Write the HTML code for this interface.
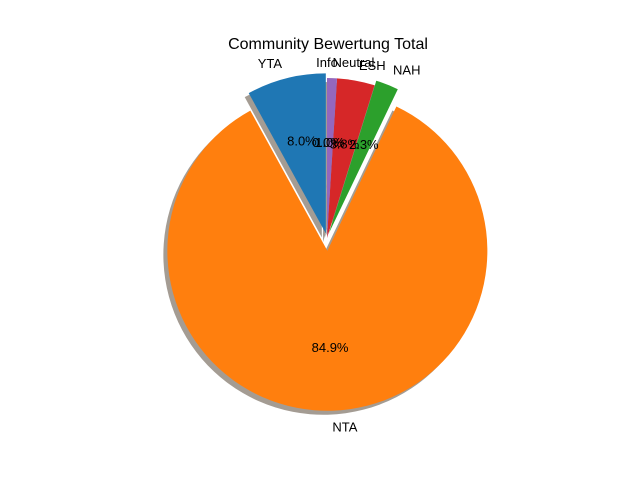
<!DOCTYPE html>
<html><head><meta charset="utf-8"><style>
body{margin:0;background:#fff}
svg text{font-family:"Liberation Sans","DejaVu Sans",sans-serif;font-size:13px;fill:#000}
</style></head><body>
<svg id="c" width="640" height="480">
<text x="328" y="49" text-anchor="middle" style="font-size:16px">Community Bewertung Total</text>
</svg>
<script>
const labels=["YTA","NTA","NAH","ESH","Neutral","Info"];
const values=[8.0,84.9,2.3,3.8,1.0,0.0];
const explode=[0.03,0.08,0.03,0,0,0];
const colors=["#1f77b4","#ff7f0e","#2ca02c","#d62728","#9467bd","#8c564b"];
const svg=document.getElementById('c');
const NS="http://www.w3.org/2000/svg";
const cx=327,cy=238,R=160;
const total=values.reduce((a,b)=>a+b,0);
function pt(x,y,r,a){return [x+r*Math.cos(a*Math.PI/180), y-r*Math.sin(a*Math.PI/180)];}
function wedge(x,y,a0,a1){
  const p0=pt(x,y,R,a0),p1=pt(x,y,R,a1);const large=(a1-a0)>180?1:0;
  return `M${x},${y}L${p0[0]},${p0[1]}A${R},${R} 0 ${large} 0 ${p1[0]},${p1[1]}Z`;
}
const slices=[];let a=90;
values.forEach((v,i)=>{const span=v/total*360;const mid=a+span/2;
  const off=explode[i]*R;const c=pt(cx,cy,off,mid);
  slices.push({a0:a,a1:a+span,mid,x:c[0],y:c[1]});a+=span;});
const gs=document.createElementNS(NS,'g');


svg.appendChild(gs);
slices.forEach((s,i)=>{if(values[i]<=0)return;
  const p=document.createElementNS(NS,'path');
  p.setAttribute('d',wedge(s.x-4,s.y+4,s.a0,s.a1));p.setAttribute('fill','#5a4a3a');p.setAttribute('fill-opacity','0.55');
  
  
  gs.appendChild(p);});
slices.forEach((s,i)=>{
  if(values[i]>0){const p=document.createElementNS(NS,'path');
  p.setAttribute('d',wedge(s.x,s.y,s.a0,s.a1));p.setAttribute('fill',colors[i]);
  
  
  svg.appendChild(p);}
});
slices.forEach((s,i)=>{
  const l=pt(s.x,s.y,R*1.1,s.mid);const t=document.createElementNS(NS,'text');
  const c=Math.cos(s.mid*Math.PI/180);
  t.setAttribute('x',l[0]);t.setAttribute('y',l[1]+5);
  t.setAttribute('text-anchor',c>0.001?'start':(c<-0.001?'end':'middle'));
  t.textContent=labels[i];
  
  
  svg.appendChild(t);
  const q=pt(s.x,s.y,R*0.6,s.mid);const u=document.createElementNS(NS,'text');
  u.setAttribute('x',q[0]);u.setAttribute('y',q[1]+5);u.setAttribute('text-anchor','middle');
  u.textContent=values[i].toFixed(1)+'%';
  
  
  svg.appendChild(u);
});
</script>
</body></html>
